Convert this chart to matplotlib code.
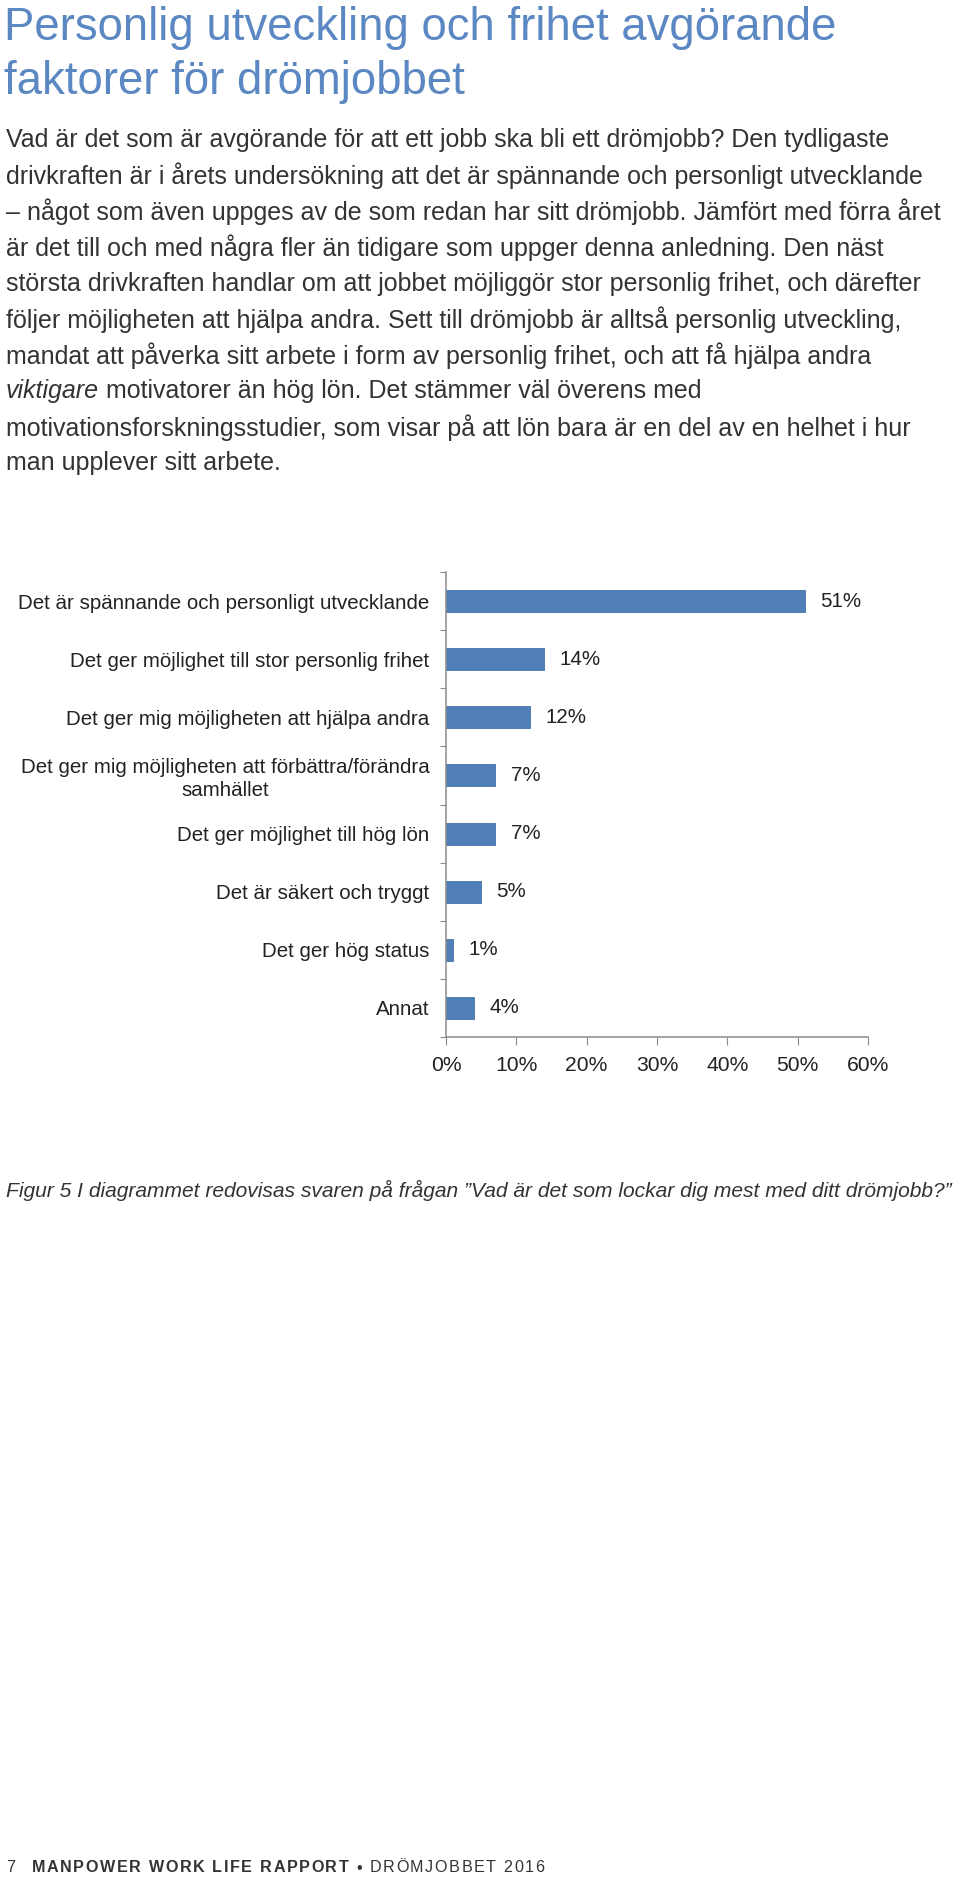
import matplotlib
matplotlib.use("Agg")
import matplotlib.pyplot as plt

plt.rcParams['font.family'] = ['Liberation Sans', 'DejaVu Sans']

W, H = 960, 1880
DPI = 100

# ── Data ──────────────────────────────────────────────────────────────────────
categories = [
    "Det är spännande och personligt utvecklande",
    "Det ger möjlighet till stor personlig frihet",
    "Det ger mig möjligheten att hjälpa andra",
    "Det ger mig möjligheten att förbättra/förändra\nsamhället",
    "Det ger möjlighet till hög lön",
    "Det är säkert och tryggt",
    "Det ger hög status",
    "Annat",
]
values = [51, 14, 12, 7, 7, 5, 1, 4]
xticks = [0, 10, 20, 30, 40, 50, 60]

title_lines = [
    "Personlig utveckling och frihet avgörande",
    "faktorer för drömjobbet",
]
body_lines = [
    "Vad är det som är avgörande för att ett jobb ska bli ett drömjobb? Den tydligaste",
    "drivkraften är i årets undersökning att det är spännande och personligt utvecklande",
    "– något som även uppges av de som redan har sitt drömjobb. Jämfört med förra året",
    "är det till och med några fler än tidigare som uppger denna anledning. Den näst",
    "största drivkraften handlar om att jobbet möjliggör stor personlig frihet, och därefter",
    "följer möjligheten att hjälpa andra. Sett till drömjobb är alltså personlig utveckling,",
    "mandat att påverka sitt arbete i form av personlig frihet, och att få hjälpa andra",
    "|viktigare| motivatorer än hög lön. Det stämmer väl överens med",
    "motivationsforskningsstudier, som visar på att lön bara är en del av en helhet i hur",
    "man upplever sitt arbete.",
]
caption = "Figur 5 I diagrammet redovisas svaren på frågan ”Vad är det som lockar dig mest med ditt drömjobb?”"

TITLE_C = '#5B88C2'
TEXT_C = '#333333'
BAR_C = '#4F7FB6'
AXIS_C = '#8C8C8C'

fig = plt.figure(figsize=(W / DPI, H / DPI), dpi=DPI)
renderer = fig.canvas.get_renderer()


def fx(px):
    return px / W


def fy(py):
    return 1 - py / H


def put(x, y, s, **kw):
    t = fig.text(fx(x), fy(y), s, va='center', ha='left', **kw)
    return t


def width_px(t):
    return t.get_window_extent(renderer=renderer).width


def spaced(x, y, s, track, **kw):
    # draw string char by char with extra tracking, return end x
    for ch in s:
        if ch == ' ':
            x += kw.get('fontsize', 10) * 0.28 * DPI / 72 + track
            continue
        t = put(x, y, ch, **kw)
        x += width_px(t) + track
    return x


# ── Title ─────────────────────────────────────────────────────────────────────
for i, line in enumerate(title_lines):
    put(4, 28 + i * 54, line, fontsize=32.8, color=TITLE_C)

# ── Body text ─────────────────────────────────────────────────────────────────
BODY_FS = 18.0
for i, line in enumerate(body_lines):
    y = 140 + i * 35.9
    if line.startswith('|'):
        _, ital, rest = line.split('|')
        t = put(6, y, ital, fontsize=BODY_FS, color=TEXT_C, style='italic')
        put(6 + width_px(t), y, rest, fontsize=BODY_FS, color=TEXT_C)
    else:
        put(6, y, line, fontsize=BODY_FS, color=TEXT_C)

# ── Chart ─────────────────────────────────────────────────────────────────────
ax = fig.add_axes([fx(446), fy(1037), fx(868) - fx(446), (1037 - 572) / H])
ypos = list(range(len(categories)))
ax.barh(ypos, values, height=0.38, color=BAR_C, edgecolor='#4572A7', linewidth=0.6)
ax.set_ylim(len(categories) - 0.5, -0.5)
ax.set_xlim(0, 60)

for yv, v in zip(ypos, values):
    ax.annotate(f"{v}%", xy=(v, yv), xytext=(11, 0), textcoords='offset points',
                va='center', ha='left', fontsize=14.8, color='#222222')

ax.set_xticks(xticks)
ax.set_xticklabels([f"{t}%" for t in xticks], fontsize=15.2, color='#222222')
ax.set_yticks([i + 0.5 for i in range(-1, len(categories))])
ax.set_yticklabels([])
ax.set_yticks(ypos, minor=True)
ax.set_yticklabels(categories, minor=True, fontsize=14.8, color='#222222',
                   multialignment='center', linespacing=1.25)
ax.tick_params(axis='y', which='minor', length=0, pad=12)
ax.tick_params(axis='y', which='major', direction='out', length=4, color=AXIS_C)
ax.tick_params(axis='x', length=6, color=AXIS_C, pad=8)
for s in ['top', 'right']:
    ax.spines[s].set_visible(False)
for s in ['left', 'bottom']:
    ax.spines[s].set_color(AXIS_C)
    ax.spines[s].set_linewidth(1.1)

# ── Caption ───────────────────────────────────────────────────────────────────
put(6, 1190, caption, fontsize=15.1, color=TEXT_C, style='italic')

# ── Footer ────────────────────────────────────────────────────────────────────
x = spaced(6, 1868, "7", 1.5, fontsize=11.6, color=TEXT_C)
x = spaced(x + 15, 1868, "MANPOWER WORK LIFE RAPPORT", 1.6, fontsize=11.6,
           color=TEXT_C, weight='bold')
spaced(x + 6, 1868, "• DRÖMJOBBET 2016", 1.6, fontsize=11.6, color=TEXT_C)

fig.savefig('out.png', dpi=DPI, facecolor='white')
